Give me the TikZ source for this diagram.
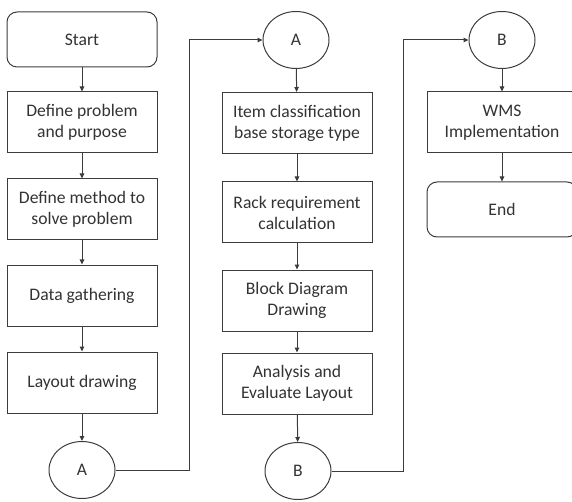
\documentclass[tikz,border=0pt]{standalone}
\usepackage{fontspec}
\setmainfont{Carlito}
\usepackage{tikz}
\usetikzlibrary{arrows.meta,shapes.geometric}
\definecolor{fcLine}{HTML}{3C3C3C}
\definecolor{fcText}{HTML}{333333}
\tikzset{
  procbox/.style={draw=fcLine, line width=1pt, minimum width=150pt, minimum height=61pt, align=center, inner sep=2pt, text=fcText, fill=white},
  termbox/.style={procbox, rounded corners=10pt, minimum height=55pt},
  conn/.style={draw=fcLine, line width=1pt, ellipse, minimum width=66pt, minimum height=57pt, inner sep=0pt, text=fcText, fill=white},
  arr/.style={-{Triangle[length=5pt,width=4.5pt]}, line width=1pt, fcLine},
}

\begin{document}
\begin{tikzpicture}[x=1pt,y=1pt,font=\fontsize{17.6}{21}\selectfont]
  \clip (0,0) rectangle (572,501);
  % first column
  \node[termbox] (start) at (82,461.5) {Start};
  \node[procbox] (prob) at (82,378.5) {Define problem\\and purpose};
  \node[procbox] (meth) at (82,291.5) {Define method to\\solve problem};
  \node[procbox] (data) at (82,205.5) {Data gathering};
  \node[procbox] (lay) at (82,118.5) {Layout drawing};
  \node[conn] (outA) at (82,31) {A};
  % second column
  \node[conn] (inA) at (296,461) {A};
  \node[procbox] (item) at (297,378) {Item classification\\base storage type};
  \node[procbox] (rack) at (297,288.5) {Rack requirement\\calculation};
  \node[procbox] (block) at (297,200.5) {Block Diagram\\Drawing};
  \node[procbox] (eval) at (297,117.5) {Analysis and\\Evaluate Layout};
  \node[conn] (outB) at (298,30) {B};
  % third column
  \node[conn] (inB) at (502,461) {B};
  \node[procbox] (wms) at (502,378.5) {WMS\\Implementation};
  \node[termbox] (finish) at (502,291.5) {End};
  % arrows
  \draw[arr] (start) -- (prob);
  \draw[arr] (prob) -- (meth);
  \draw[arr] (meth) -- (data);
  \draw[arr] (data) -- (lay);
  \draw[arr] (lay) -- (outA);
  \draw[arr] (inA) -- (item);
  \draw[arr] (item) -- (rack);
  \draw[arr] (rack) -- (block);
  \draw[arr] (block) -- (eval);
  \draw[arr] (eval) -- (outB);
  \draw[arr] (inB) -- (wms);
  \draw[arr] (wms) -- (finish);
  % off-page links
  \coordinate (jA) at (189,0);
  \coordinate (jB) at (403,0);
  \draw[arr] (outA.east) -- (outA.east -| jA) -- (jA |- inA.west) -- (inA.west);
  \draw[arr] (outB.east) -- (outB.east -| jB) -- (jB |- inB.west) -- (inB.west);
\end{tikzpicture}
\end{document}
